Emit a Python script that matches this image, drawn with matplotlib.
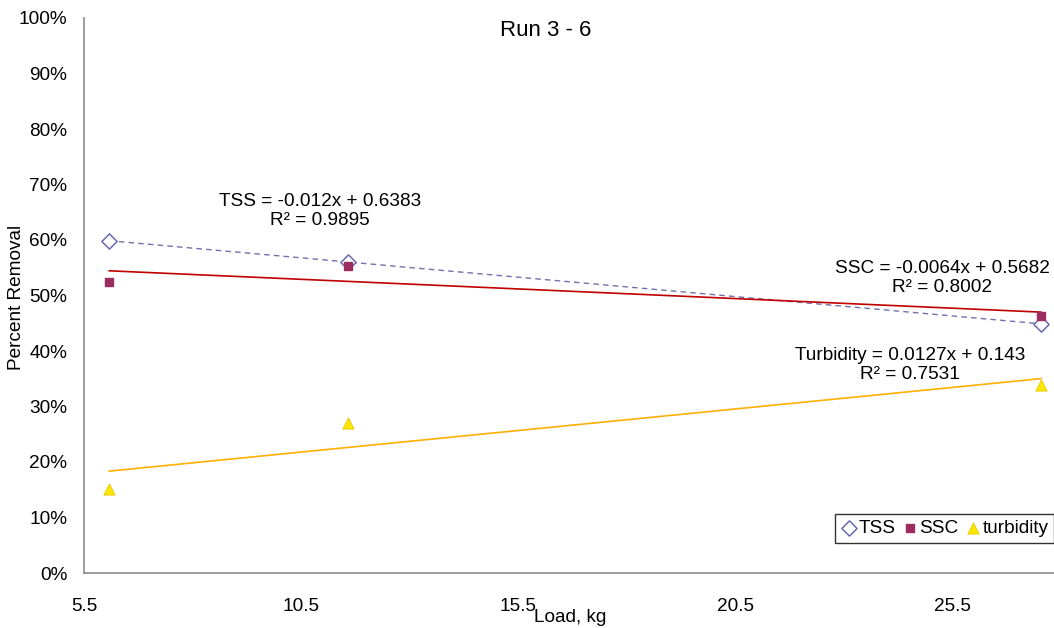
import numpy as np
import matplotlib.pyplot as plt
from matplotlib.ticker import PercentFormatter

plt.rcParams['font.family'] = ['Liberation Sans', 'DejaVu Sans']

# load (kg) and percent removal for each run
load = [6.08, 11.58, 27.55]
tss = [0.599, 0.560, 0.449]
ssc = [0.524, 0.553, 0.463]
turbidity = [0.151, 0.270, 0.339]

x_ticks = [5.5, 10.5, 15.5, 20.5, 25.5]

FS = 13.7

fig = plt.figure(figsize=(10.54, 6.28), dpi=100)
ax = fig.add_axes([84 / 1054, 1 - 573 / 628, (1054 - 84) / 1054, (573 - 18) / 628])

xs = np.array([min(load), max(load)])

# trendlines fitted to each series
for vals, col, ls, lw in [(tss, '#7270b0', (0, (4, 3)), 1.0),
                          (ssc, '#c00000', '-', 1.2),
                          (turbidity, '#ffb000', '-', 1.2)]:
    m, b = np.polyfit(load, vals, 1)
    ax.plot(xs, m * xs + b, color=col, ls=ls, lw=lw, zorder=2)

ax.scatter(load, tss, marker='D', s=60, facecolor='white', edgecolor='#6c6ab0',
           linewidths=1.1, label='TSS', zorder=3)
ax.scatter(load, ssc, marker='s', s=28, color='#9b2d5f', label='SSC', zorder=4)
ax.scatter(load, turbidity, marker='^', s=65, color='#ffe600', edgecolor='#e6c800',
           linewidths=0.6, label='turbidity', zorder=3)

ax.set_xlim(5.5, 27.85)
ax.set_ylim(0, 1)
ax.set_xticks(x_ticks)
ax.set_yticks(np.arange(0, 1.01, 0.1))
ax.yaxis.set_major_formatter(PercentFormatter(1.0, decimals=0))
ax.tick_params(length=0, labelsize=FS)
ax.tick_params(axis='y', pad=12)
ax.tick_params(axis='x', pad=18)
for s in ['top', 'right']:
    ax.spines[s].set_visible(False)
for s in ['left', 'bottom']:
    ax.spines[s].set_color('#8c8c8c')
    ax.spines[s].set_linewidth(1.2)

fig.text(17 / 1054, 1 - 297 / 628, 'Percent Removal', fontsize=FS, rotation=90,
         ha='center', va='center')
fig.text(570 / 1054, 1 - 617 / 628, 'Load, kg', fontsize=FS, ha='center', va='center')
fig.text(546 / 1054, 1 - 31 / 628, 'Run 3 - 6', fontsize=16, ha='center', va='center')

ax.text(10.94, 0.652, 'TSS = -0.012x + 0.6383\nR² = 0.9895', fontsize=FS,
        ha='center', va='center', linespacing=1.15)
ax.text(25.27, 0.532, 'SSC = -0.0064x + 0.5682\nR² = 0.8002', fontsize=FS,
        ha='center', va='center', linespacing=1.15)
ax.text(24.53, 0.375, 'Turbidity = 0.0127x + 0.143\nR² = 0.7531', fontsize=FS,
        ha='center', va='center', linespacing=1.15)

leg = ax.legend(loc='lower right', bbox_to_anchor=(1.0, 0.054), ncol=3, fontsize=FS,
                frameon=True, fancybox=False, handletextpad=0.05, columnspacing=0.3,
                handlelength=0.9, borderpad=0.3, borderaxespad=0.0)
leg.get_frame().set_edgecolor('black')
leg.get_frame().set_linewidth(1.0)

fig.savefig('out.png', dpi=100)
